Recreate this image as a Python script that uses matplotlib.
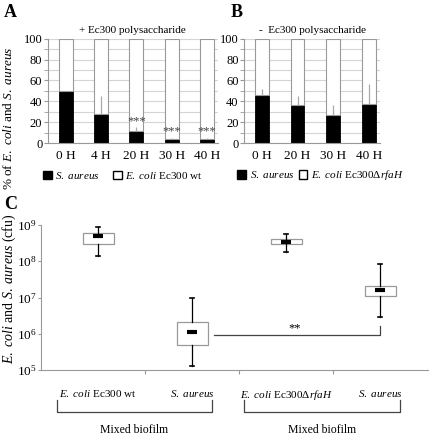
import matplotlib
matplotlib.use("Agg")
import matplotlib.pyplot as plt
from matplotlib.patches import Patch
from matplotlib.ticker import NullLocator

plt.rcParams["font.family"] = ["Liberation Serif", "DejaVu Serif"]
plt.rcParams["mathtext.fontset"] = "custom"
plt.rcParams["mathtext.rm"] = "Liberation Serif"
plt.rcParams["mathtext.it"] = "Liberation Serif:italic"
plt.rcParams["mathtext.bf"] = "Liberation Serif:bold"

# panel A: + polysaccharide
a_times = ["0 H", "4 H", "20 H", "30 H", "40 H"]
a_aureus = [50, 28, 12, 4, 3.5]
a_err = [0, 17, 3, 1, 1.5]
a_stars = ["", "", "***", "***", "***"]

# panel B: - polysaccharide
b_times = ["0 H", "20 H", "30 H", "40 H"]
b_aureus = [46, 36, 27, 37.5]
b_err = [6, 9, 9, 19]

# panel C: cfu box plots
c_labels = [r"$\mathit{E.\ coli}$ Ec300 wt", r"$\mathit{S.\ aureus}$",
            r"$\mathit{E.\ coli}$ Ec300$\Delta\mathit{rfaH}$", r"$\mathit{S.\ aureus}$"]
c_whislo = [1.4e8, 1.3e5, 1.8e8, 3.0e6]
c_q1 = [3.0e8, 5.0e5, 2.9e8, 1.1e7]
c_med = [5.0e8, 1.1e6, 3.5e8, 1.6e7]
c_q3 = [5.9e8, 2.1e6, 4.1e8, 2.1e7]
c_whishi = [8.6e8, 9.6e6, 5.6e8, 8.3e7]

fig = plt.figure(figsize=(4.32, 4.36), dpi=100)

grey = "#999999"


def stacked(ax, times, vals, errs, xmax):
    x = list(range(len(times)))
    rest = [100 - v for v in vals]
    ax.bar(x, vals, width=0.39, color="black", edgecolor="black", lw=0.6, zorder=2)
    ax.bar(x, rest, bottom=vals, width=0.39, color="white", edgecolor=grey, lw=0.8, zorder=2)
    ax.errorbar(x, vals, yerr=[[0] * len(vals), errs], fmt="none", ecolor="#aaaaaa",
                elinewidth=0.9, zorder=3)
    ax.set_xlim(-0.5, xmax)
    ax.set_ylim(0, 100)
    ax.set_yticks(range(0, 101, 20))
    ax.set_yticks(range(10, 100, 20), minor=True)
    ax.yaxis.grid(True, which="both", color="#d4d4d4", lw=0.8, zorder=0)
    ax.set_axisbelow(True)
    ax.set_xticks(x)
    ax.set_xticklabels(times, fontsize=9.5)
    ax.tick_params(axis="x", length=0, pad=5)
    ax.tick_params(axis="y", which="both", length=3, color=grey, labelsize=9, pad=1)
    for s in ["top", "right"]:
        ax.spines[s].set_visible(False)
    for s in ["left", "bottom"]:
        ax.spines[s].set_color(grey)
    return x


def two_legend(ax, label2, cx, spacing):
    ax.legend(handles=[Patch(facecolor="black", edgecolor="black"),
                       Patch(facecolor="white", edgecolor="black")],
              labels=[r"$\mathit{S.\ aureus}$", label2],
              loc="center", bbox_to_anchor=(cx, -0.31), ncol=2, frameon=False,
              fontsize=8, handlelength=0.8, handleheight=0.8, handletextpad=0.3,
              columnspacing=spacing)


axA = fig.add_axes([0.111, 0.672, 0.393, 0.239])
xa = stacked(axA, a_times, a_aureus, a_err, 4.3)
for xi, v, e, s in zip(xa, a_aureus, a_err, a_stars):
    if s:
        axA.text(xi, v + e + 0.5, s, ha="center", va="bottom", fontsize=9, color="#444444")
axA.set_title("+ Ec300 polysaccharide", fontsize=8, pad=4)
two_legend(axA, r"$\mathit{E.\ coli}$ Ec300 wt", 0.44, 1.2)

axB = fig.add_axes([0.565, 0.672, 0.315, 0.239])
stacked(axB, b_times, b_aureus, b_err, 3.32)
axB.set_title("-  Ec300 polysaccharide", fontsize=8, pad=4)
two_legend(axB, r"$\mathit{E.\ coli}$ Ec300$\Delta\mathit{rfaH}$", 0.56, 0.4)

fig.text(0.019, 0.729, r"% of $\mathit{E.\ coli}$ and $\mathit{S.\ aureus}$",
         rotation=90, ha="center", va="center", fontsize=9.5)

# panel C
axC = fig.add_axes([0.095, 0.151, 0.896, 0.333])
pos = [1, 2, 3, 4]
stats = [dict(whislo=a, q1=b, med=c, q3=d, whishi=e)
         for a, b, c, d, e in zip(c_whislo, c_q1, c_med, c_q3, c_whishi)]
axC.bxp(stats, positions=pos, widths=0.33, showfliers=False, patch_artist=True,
        boxprops=dict(facecolor="white", edgecolor=grey, lw=0.9),
        whiskerprops=dict(color="black", lw=0.9),
        capprops=dict(color="black", lw=1.2),
        medianprops=dict(lw=0), capwidths=0.04)
axC.plot(pos, c_med, ls="", marker="_", ms=7, mew=3, color="black", zorder=4)
axC.set_yscale("log")
axC.set_ylim(1e5, 1e9)
axC.set_xlim(0.394, 4.51)
axC.yaxis.set_minor_locator(NullLocator())
axC.tick_params(axis="y", labelsize=9.5, length=2, color=grey, pad=1)
axC.set_xticks([1.5, 2.5, 3.5])
axC.set_xticklabels([])
axC.set_xticks(pos, minor=True)
axC.set_xticklabels(c_labels, minor=True, fontsize=8)
axC.tick_params(axis="x", which="major", length=3, color=grey)
axC.tick_params(axis="x", which="minor", length=0, pad=13)
for s in ["top", "right"]:
    axC.spines[s].set_visible(False)
for s in ["left", "bottom"]:
    axC.spines[s].set_color(grey)

# significance bracket
axC.plot([2.234, 4.0, 4.0], [9.1e5, 9.1e5, 1.6e6], color="#444444", lw=0.9)
axC.text(3.09, 1.0e6, "**", ha="center", va="bottom", fontsize=9)

# group brackets below the axis
tr = axC.get_xaxis_transform()
for x0, x1 in [(0.564, 2.21), (2.553, 4.21)]:
    axC.plot([x0, x0, x1, x1], [-0.207, -0.29, -0.29, -0.207], color="#444444",
             lw=0.9, transform=tr, clip_on=False)
    axC.text((x0 + x1) / 2, -0.41, "Mixed biofilm", ha="center", va="center",
             fontsize=8.5, transform=tr)

fig.text(0.022, 0.337, r"$\mathit{E.\ coli}$ and $\mathit{S.\ aureus}$ (cfu)",
         rotation=90, ha="center", va="center", fontsize=10)

fig.text(0.01, 0.972, "A", fontsize=13, fontweight="bold", va="center")
fig.text(0.535, 0.972, "B", fontsize=13, fontweight="bold", va="center")
fig.text(0.01, 0.53, "C", fontsize=13, fontweight="bold", va="center")

fig.savefig("out.png", dpi=100)
